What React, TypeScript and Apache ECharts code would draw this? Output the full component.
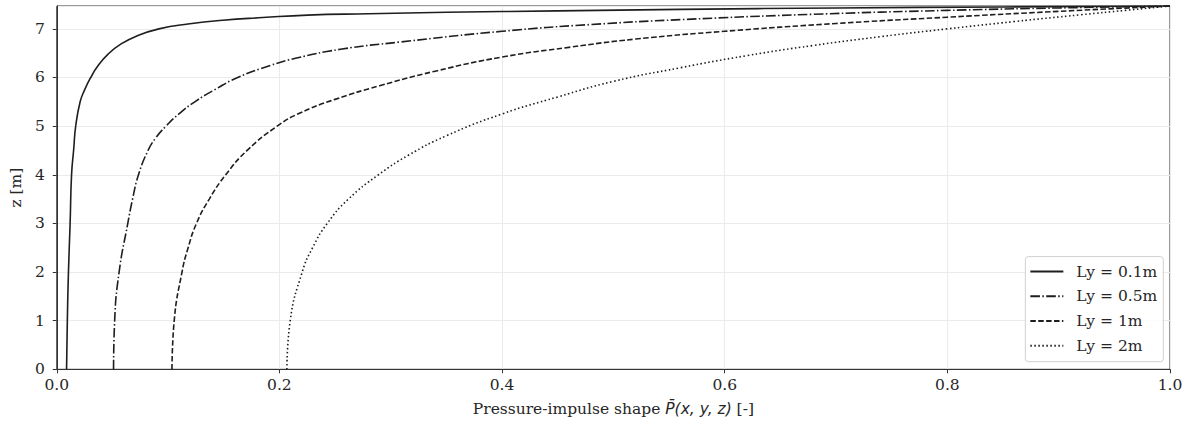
import React, { useEffect, useRef } from "react";
import * as echarts from "echarts";

const seriesNames = ["Ly = 0.1m", "Ly = 0.5m", "Ly = 1m", "Ly = 2m"];

// [P, z] pairs
const ly01: number[][] = [
  [0.0088, 0], [0.0095, 1], [0.0105, 2], [0.012, 3], [0.0133, 4], [0.0152, 4.52],
  [0.017, 5.0], [0.021, 5.5], [0.0251, 5.75], [0.0305, 6.0], [0.0367, 6.23],
  [0.0461, 6.48], [0.0578, 6.69], [0.073, 6.865], [0.0918, 7.0], [0.1178, 7.1],
  [0.1491, 7.178], [0.185, 7.232], [0.2253, 7.283], [0.28, 7.31], [0.35, 7.34],
  [0.45, 7.37], [0.56, 7.4], [0.7, 7.43], [0.85, 7.45], [1.0, 7.47],
];
const ly05: number[][] = [
  [0.051, 0], [0.052, 1], [0.056, 2], [0.0638, 3], [0.0681, 3.5], [0.0734, 4],
  [0.082, 4.5], [0.0887, 4.75], [0.0981, 5], [0.1097, 5.25], [0.124, 5.5],
  [0.142, 5.75], [0.1625, 6.0], [0.1921, 6.25], [0.2154, 6.4], [0.2548, 6.58],
  [0.3086, 6.73], [0.40, 6.95], [0.48, 7.09], [0.561, 7.19], [0.68, 7.30],
  [0.80, 7.38], [0.9, 7.43], [1.0, 7.47],
];
const ly1: number[][] = [
  [0.1035, 0], [0.1055, 1], [0.1125, 2], [0.118, 2.5], [0.1255, 3], [0.137, 3.5],
  [0.1518, 4], [0.171, 4.5], [0.198, 5.0], [0.2185, 5.27], [0.25, 5.55],
  [0.29, 5.83], [0.34, 6.13], [0.40, 6.42], [0.46, 6.62], [0.52, 6.79],
  [0.6, 6.95], [0.7, 7.11], [0.8, 7.24], [0.9, 7.36], [1.0, 7.47],
];
const ly2: number[][] = [
  [0.2067, 0], [0.2097, 1], [0.2205, 2], [0.2298, 2.5], [0.243, 3], [0.262, 3.5],
  [0.289, 4], [0.3158, 4.4], [0.3498, 4.8], [0.40, 5.25], [0.45, 5.6],
  [0.50, 5.92], [0.56, 6.2], [0.62, 6.45], [0.68, 6.66], [0.74, 6.84],
  [0.80, 7.0], [0.86, 7.15], [0.92, 7.29], [0.96, 7.38], [1.0, 7.47],
];
const seriesData = [ly01, ly05, ly1, ly2];
const dashPatterns: (number[] | "solid")[] = [
  "solid",
  [9.6, 2.4, 1.5, 2.4],
  [5.5, 2.4],
  [1.5, 2.5],
];

const xTicks = [0, 0.2, 0.4, 0.6, 0.8, 1.0];
const yMax = 7.47;

const FONT = "DejaVu Serif";
const TXT = "#262626";
const FS = 15.5;

export default function App() {
  const ref = useRef<HTMLDivElement>(null);
  useEffect(() => {
    document.body.style.margin = "0";
    const chart = echarts.init(ref.current!, undefined, { renderer: "svg" });
    chart.setOption({
      animation: false,
      backgroundColor: "#ffffff",
      grid: {
        left: 53.5,
        right: 22,
        top: 6,
        bottom: 54.7,
        show: true,
        borderColor: "#333",
        borderWidth: 1,
        backgroundColor: "transparent",
      },
      legend: {
        data: seriesNames,
        orient: "vertical",
        right: 28.7,
        bottom: 62.3,
        itemWidth: 33,
        itemHeight: 16,
        itemGap: 8.7,
        padding: [7, 6, 8, 4],
        backgroundColor: "rgba(255,255,255,0.85)",
        borderColor: "#d0d0d0",
        borderWidth: 1,
        borderRadius: 3,
        itemStyle: { opacity: 0 },
        textStyle: { fontFamily: FONT, fontSize: FS, color: TXT, padding: [0, 0, 0, 8] },
      },
      xAxis: {
        type: "value",
        min: 0,
        max: 1,
        interval: 0.2,
        name: "Pressure-impulse shape {i|P̄(x, y, z)} [-]",
        nameLocation: "middle",
        nameGap: 32,
        nameTextStyle: {
          fontFamily: FONT,
          fontSize: FS,
          color: TXT,
          rich: {
            i: { fontFamily: "DejaVu Sans", fontStyle: "italic", fontSize: FS, color: TXT },
          },
        },
        axisLine: { show: true, lineStyle: { color: "#333", width: 1 } },
        axisTick: { show: true, inside: false, length: 4, lineStyle: { color: "#333" } },
        axisLabel: {
          margin: 8,
          fontFamily: FONT,
          fontSize: FS,
          color: TXT,
          formatter: (v: number) =>
            xTicks.some((t) => Math.abs(t - v) < 1e-9) ? v.toFixed(1) : "",
        },
        splitLine: { show: true, lineStyle: { color: "#ebebeb", width: 1 } },
      },
      yAxis: {
        type: "value",
        min: 0,
        max: yMax,
        interval: 1,
        name: "z [m]",
        nameLocation: "middle",
        nameGap: 26,
        nameTextStyle: { fontFamily: FONT, fontSize: FS, color: TXT },
        axisLine: { show: true, lineStyle: { color: "#333", width: 1 } },
        axisTick: { show: true, inside: false, length: 4, lineStyle: { color: "#333" } },
        axisLabel: {
          margin: 12,
          fontFamily: FONT,
          fontSize: FS,
          color: TXT,
          showMaxLabel: false,
          formatter: (v: number) =>
            Math.abs(v - Math.round(v)) < 1e-9 ? String(Math.round(v)) : "",
        },
        splitLine: { show: true, lineStyle: { color: "#ebebeb", width: 1 } },
      },
      series: seriesNames.map((name, i) => ({
        name,
        type: "line",
        data: seriesData[i],
        showSymbol: false,
        symbol: "none",
        smooth: 0.5,
        lineStyle: { color: "#1e1e1e", width: 1.6, type: dashPatterns[i] },
        itemStyle: { color: "#1e1e1e" },
        z: 3,
      })),
    });
    return () => chart.dispose();
  }, []);
  return <div ref={ref} style={{ width: 1192, height: 424 }} />;
}
